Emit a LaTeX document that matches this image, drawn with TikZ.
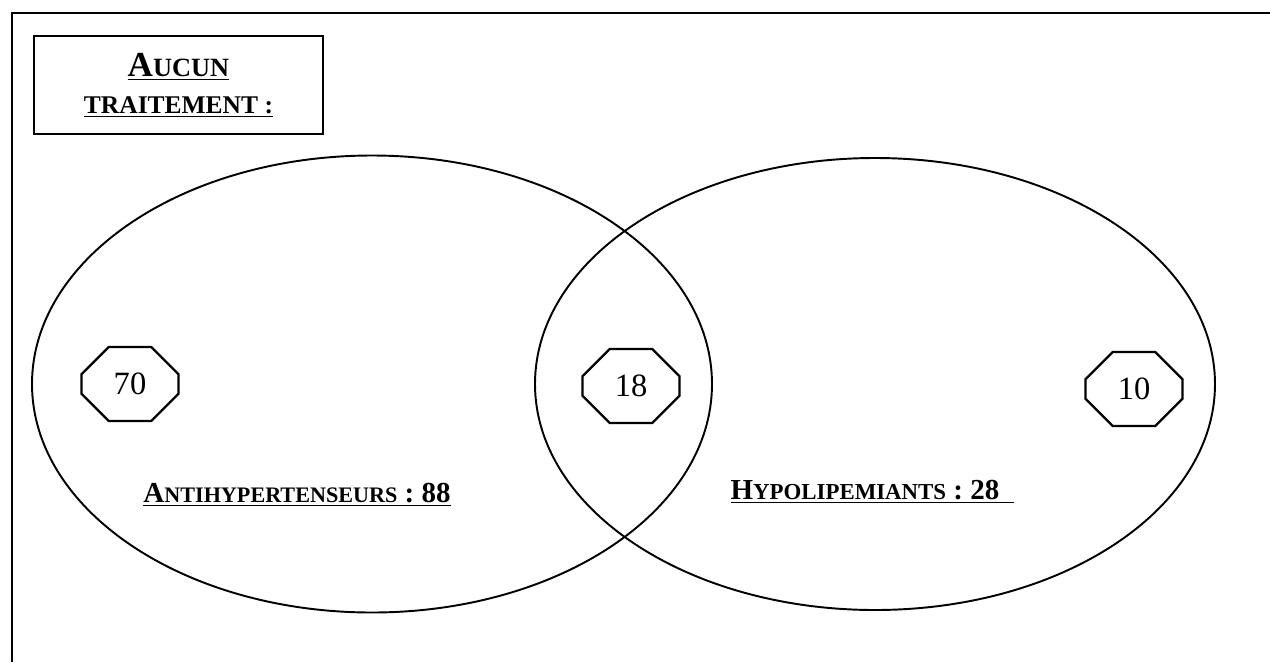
\documentclass[tikz,border=0pt]{standalone}
\usepackage{fontspec}
\setmainfont{Liberation Serif}
\usetikzlibrary{shapes.geometric,shapes.misc}

% fake small capitals: size, text
\newcommand{\smc}[2]{{\fontsize{#1}{#1}\selectfont #2}}

\begin{document}
\begin{tikzpicture}[
  setbox/.style={draw, ellipse, line width=1.1pt, inner sep=0pt},
  count/.style={draw, chamfered rectangle, line width=1.3pt,
    chamfered rectangle xsep=0.43cm, chamfered rectangle ysep=0.43cm,
    minimum width=1.94cm, minimum height=1.48cm, inner sep=0pt,
    font=\fontsize{18.5}{20}\selectfont},
  setlabel/.style={anchor=base, inner sep=0pt,
    font=\fontsize{16.5}{18}\selectfont\bfseries},
  titlebox/.style={draw, line width=1pt, minimum width=5.78cm,
    minimum height=1.96cm, align=center, inner sep=0pt,
    font=\fontsize{20}{21}\selectfont\bfseries}
]
\useasboundingbox (0,0) rectangle (25.4,-13.24);
\draw[line width=1pt] (25.4,-0.26) -- (0.24,-0.26) -- (0.24,-13.24);

\node[titlebox] (none) at (3.57,-1.70)
  {\underline{A\smc{15}{UCUN}}\\[0pt]\underline{\smc{14.5}{TRAITEMENT :}}};

\node[setbox, minimum width=13.6cm, minimum height=9.14cm] (anti) at (7.44,-7.68) {};
\node[setbox, minimum width=13.6cm, minimum height=9.04cm] (hypo) at (17.5,-7.68) {};

\node[count] (n70) at (2.60,-7.68) {70};
\node[count] (n18) at (12.62,-7.72) {18};
\node[count] (n10) at (22.68,-7.78) {10};

\node[setlabel] (antilab) at (5.94,-10.04)
  {\underline{A\smc{12.6}{NTIHYPERTENSEURS} : 88}};
\node[setlabel] (hypolab) at (17.45,-9.98)
  {\underline{H\smc{13}{YPOLIPEMIANTS} : 28\hspace{0.3cm}}};
\end{tikzpicture}
\end{document}
